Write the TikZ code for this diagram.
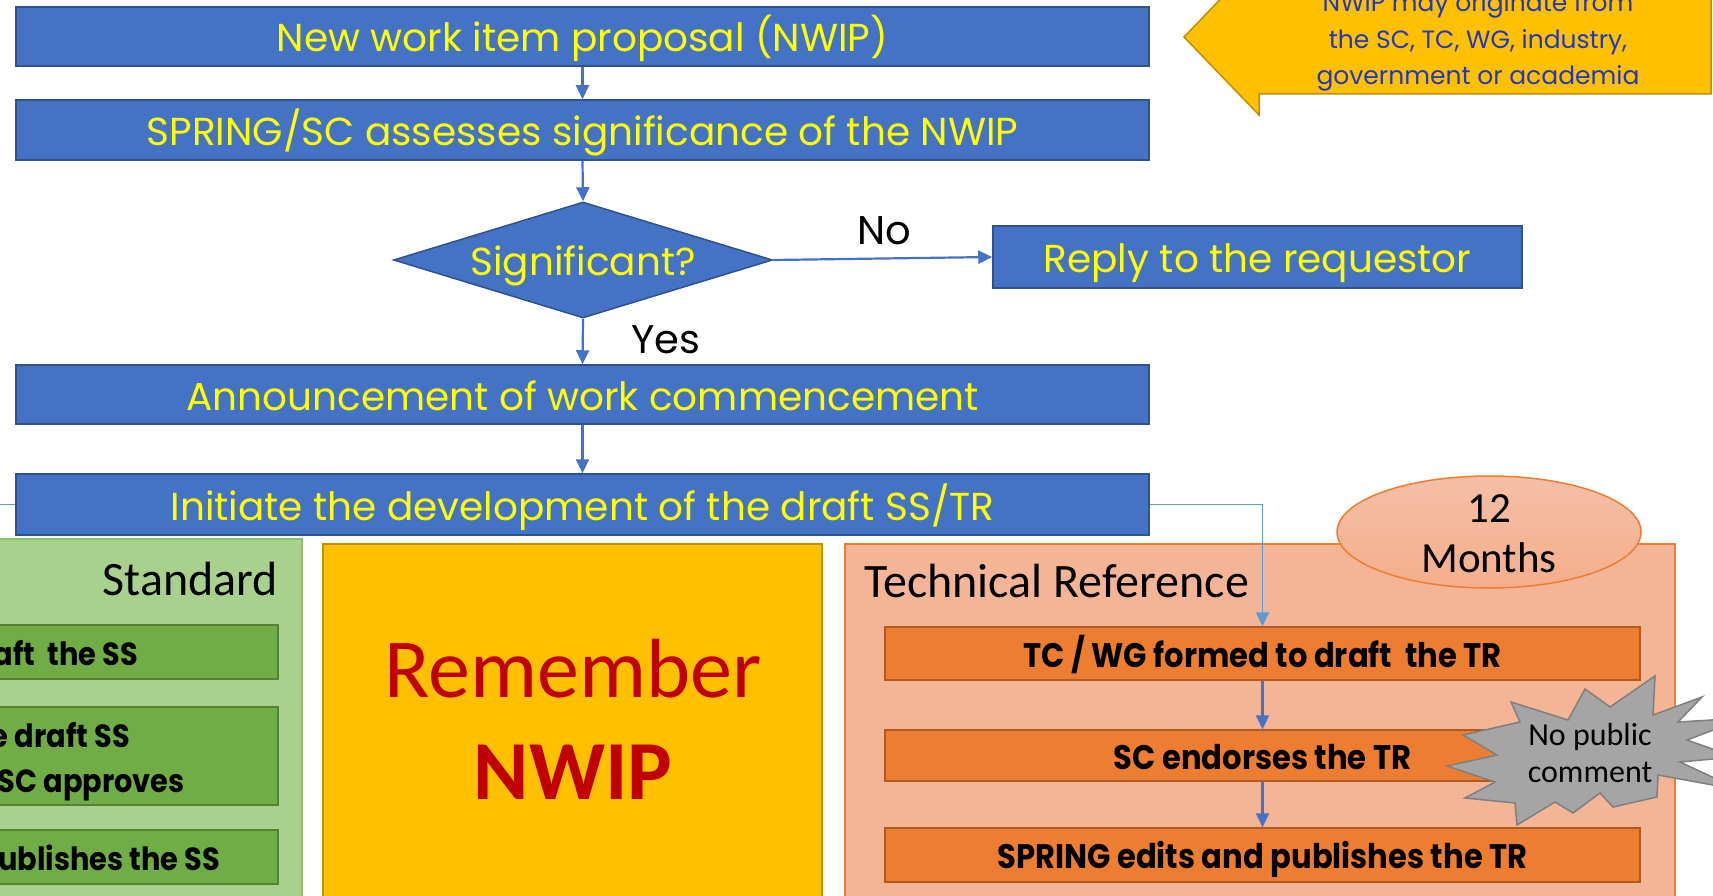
\documentclass[tikz,border=0pt]{standalone}
\usepackage{fontspec}
\setmainfont{Carlito}
\newfontfamily\geo{Poppins}
\newfontfamily\geocond{Poppins}[FakeStretch=0.9]
\newfontfamily\calib{Carlito}
\usetikzlibrary{shapes.geometric,arrows.meta}
\definecolor{nblue}{HTML}{4472C4}
\definecolor{nbluebd}{HTML}{2F528F}
\definecolor{lblue}{HTML}{5B9BD5}
\definecolor{ytext}{HTML}{FFFF00}
\definecolor{gold}{HTML}{FFC000}
\definecolor{goldbd}{HTML}{BF9000}
\definecolor{orng}{HTML}{ED7D31}
\definecolor{orngbd}{HTML}{AE5A21}
\definecolor{peach}{HTML}{F4B496}
\definecolor{gouter}{HTML}{A9D18E}
\definecolor{gouterbd}{HTML}{8CC168}
\definecolor{ginner}{HTML}{70AD47}
\definecolor{ginnerbd}{HTML}{548235}
\definecolor{grey}{HTML}{A5A5A5}
\definecolor{greybd}{HTML}{7F7F7F}
\definecolor{remred}{HTML}{C00000}
\definecolor{calltext}{HTML}{2238C0}
\begin{document}
\begin{tikzpicture}[x=1pt,y=-1pt,
  bluebox/.style={draw=nbluebd, fill=nblue, line width=1.5pt, text=ytext,
    font=\geo\fontsize{39}{46}\selectfont, minimum width=1133pt, inner sep=0pt,
    text height=31pt, text depth=0pt},
  conn/.style={draw=nblue, line width=2.2pt, -{Triangle[length=14pt,width=13pt]}},
  orbox/.style={draw=orngbd, fill=orng, line width=1.5pt, minimum width=755pt, inner sep=0pt,
    font=\geocond\bfseries\fontsize{34}{40}\selectfont, text height=27pt, text depth=0pt},
  grbox/.style={draw=ginnerbd, fill=ginner, line width=1.5pt, minimum width=288pt, inner sep=0pt},
  grtext/.style={anchor=base east, inner sep=0pt, font=\geocond\bfseries\fontsize{32}{38}\selectfont},
  lbl/.style={inner sep=0pt, anchor=base, font=\geo\fontsize{40}{48}\selectfont},
  calltxt/.style={inner sep=0pt, anchor=base, text=calltext, font=\geo\fontsize{25}{30}\selectfont},
  caltxt/.style={inner sep=0pt, anchor=base, font=\calib\fontsize{48}{54}\selectfont}
]
\useasboundingbox (0,0) rectangle (1713,896);

% callout (top right)
\draw[fill=gold, draw=goldbd, line width=1.5pt] (1184,37) -- (1259,115) -- (1259,94) -- (1711,94)
  -- (1711,-25) -- (1259,-25) -- (1259,-41) -- cycle;
\node[calltxt] (c1) at (1478,12) {NWIP may originate from};
\node[calltxt] (c2) at (1478,49) {the SC, TC, WG, industry,};
\node[calltxt] (c3) at (1478,85) {government or academia};

% main flow
\node[bluebox, minimum height=59pt] (b1) at (582.5,36.5) {New work item proposal (NWIP)};
\node[bluebox, minimum height=60pt] (b2) at (582.5,130) {SPRING/SC assesses significance of the NWIP};
\node[diamond, aspect=3.27, draw=nbluebd, fill=nblue, line width=1.5pt, text=ytext, inner sep=0pt,
  minimum width=379pt, minimum height=116pt, text height=31pt, text depth=0pt,
  font=\geo\fontsize{39}{46}\selectfont] (d) at (583,260) {Significant?};
\node[bluebox, minimum width=529pt, minimum height=62pt] (reply) at (1257.5,257) {Reply to the requestor};
\node[bluebox, minimum height=59pt] (b3) at (582.5,394.5) {Announcement of work commencement};
\node[bluebox, minimum height=61pt] (b4) at (582.5,504.5) {Initiate the development of the draft SS/TR};
\node[lbl] (no) at (884,244) {No};
\node[lbl] (yes) at (666,353) {Yes};

\draw[conn] (b1.south) -- (b2.north);
\draw[conn] (b2.south) -- (d.north);
\draw[conn] (d.east) -- (reply.west);
\draw[conn] (d.south) -- (b3.north);
\draw[conn] (b3.south) -- (b4.north);
\coordinate (leftend) at (0,504.5);
\draw[draw=lblue, line width=1.8pt] (b4.west) -- (leftend);

% standard column
\node[draw=gouterbd, fill=gouter, line width=1.5pt, minimum width=312pt, minimum height=361pt, inner sep=0pt] (std) at (146,719.5) {};
\node[caltxt, anchor=base east] (stdt) at (278,595) {Standard};
\node[grbox, minimum height=54pt] (ga) at (134,652) {};
\node[grbox, minimum height=98pt] (gb) at (134,756) {};
\node[grbox, minimum height=54pt] (gc) at (134,857) {};
\node[grtext] (gat) at (138,665) {aft\ \ the SS};
\node[grtext] (gbt1) at (130,747) {e draft SS};
\node[grtext] (gbt2) at (185,792) {SC approves};
\node[grtext] (gct) at (220,870) {ublishes the SS};

% remember box
\node[draw=goldbd, fill=gold, line width=1.5pt, minimum width=499pt, minimum height=356pt, inner sep=0pt] (rem) at (572.5,722) {};
\node[inner sep=0pt, anchor=base, text=remred, font=\calib\fontsize{84}{90}\selectfont] (remt) at (573,697) {Remember};
\node[inner sep=0pt, anchor=base, text=remred, font=\calib\bfseries\fontsize{84}{90}\selectfont] (nwipt) at (573,799) {NWIP};

% technical reference column
\node[draw=orng, fill=peach, line width=1.5pt, minimum width=830pt, minimum height=356pt, inner sep=0pt] (tr) at (1260,722) {};
\node[ellipse, draw=orng, line width=1.5pt, top color=peach!85!white, bottom color=peach!90!orng,
  minimum width=304pt, minimum height=112pt, inner sep=0pt] (ell) at (1489,532) {};
\node[caltxt, anchor=base, font=\calib\fontsize{43}{48}\selectfont] (m12) at (1489,522) {12};
\node[caltxt, anchor=base, font=\calib\fontsize{43}{48}\selectfont] (mon) at (1489,572) {Months};
\node[caltxt, anchor=base west] (trt) at (864,597) {Technical Reference};
\node[orbox, minimum height=53pt] (tc) at (1262.5,653.5) {TC / WG formed to draft\ \ the TR};
\node[orbox, minimum height=51pt] (sc) at (1262.5,755.5) {SC endorses the TR};
\node[orbox, minimum height=54pt] (sp) at (1262.5,855) {SPRING edits and publishes the TR};
\draw[conn] (tc.south) -- (sc.north);
\draw[conn] (sc.south) -- (sp.north);
\draw[draw=lblue, line width=1.8pt, -{Triangle[length=14pt,width=13pt]}] (b4.east) -| (tc.north);

% explosion
\draw[fill=grey, draw=greybd, line width=1.5pt]
  (1447,766) -- (1497,755) -- (1463,735) -- (1520,722) -- (1511,702) -- (1568,720)
  -- (1585,689) -- (1610,707) -- (1655,676) -- (1653,715) -- (1702,697) -- (1678,722)
  -- (1745,718) -- (1687,740) -- (1735,757) -- (1680,762) -- (1740,790) -- (1658,775)
  -- (1657,797) -- (1613,807) -- (1600,793) -- (1573,813) -- (1555,802) -- (1517,825)
  -- (1515,803) -- (1465,798) -- (1495,782) -- cycle;
\node[inner sep=0pt, anchor=base, font=\calib\fontsize{32}{36}\selectfont] (np1) at (1590,745) {No public};
\node[inner sep=0pt, anchor=base, font=\calib\fontsize{32}{36}\selectfont] (np2) at (1590,782) {comment};
\end{tikzpicture}
\end{document}
